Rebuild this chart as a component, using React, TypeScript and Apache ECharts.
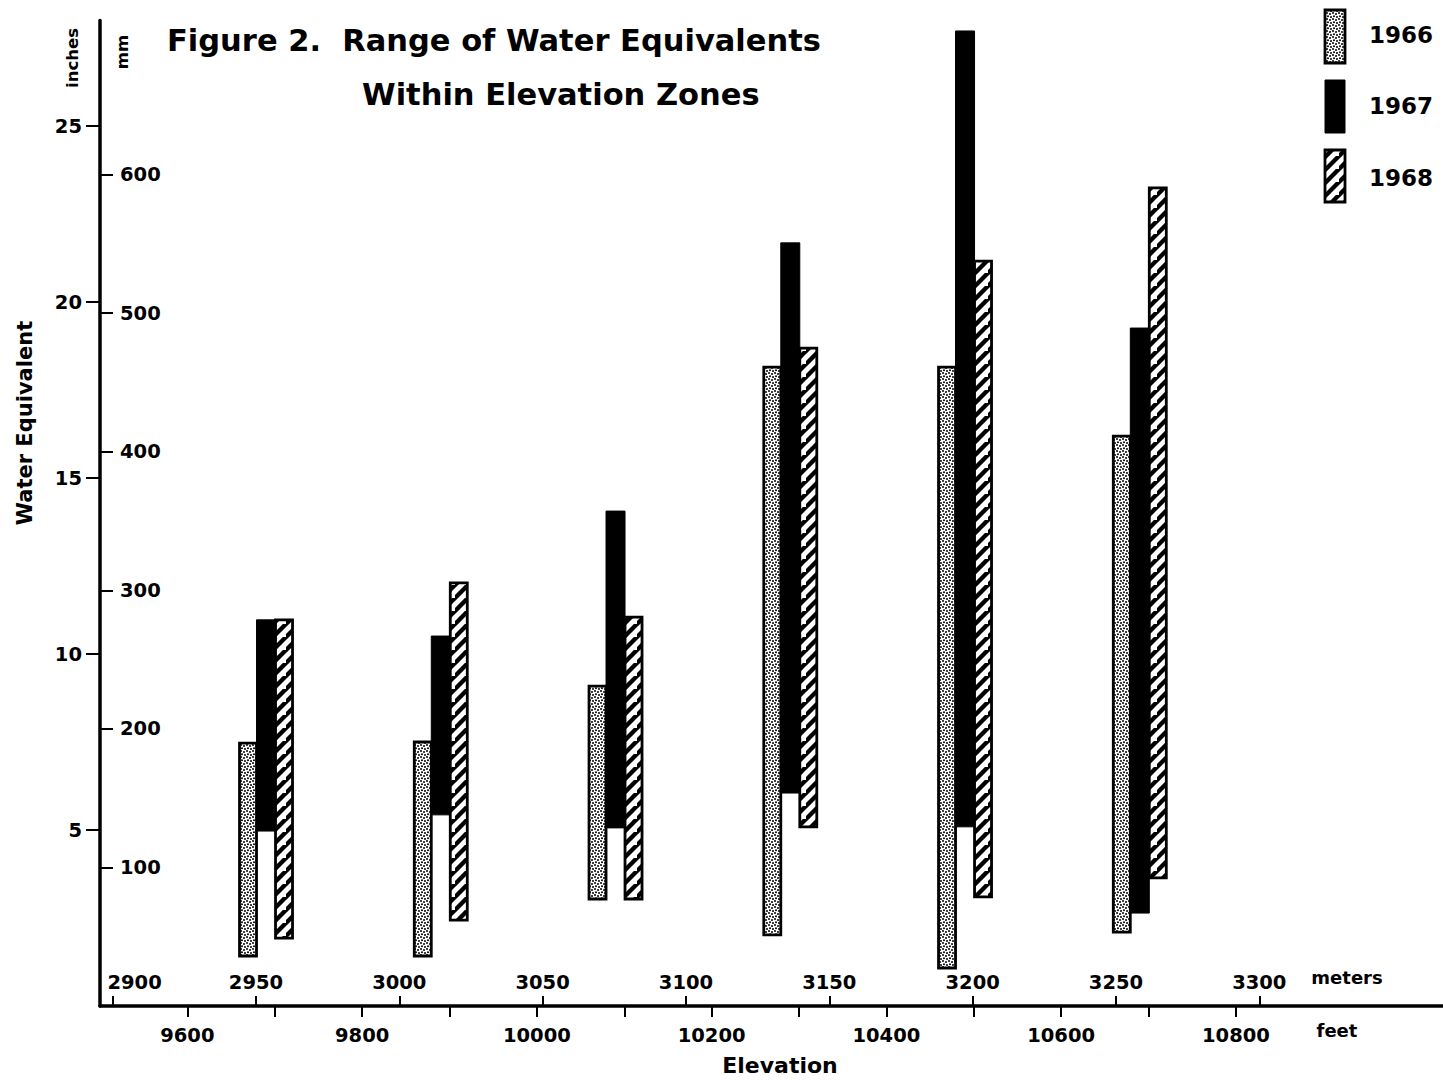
import React, { useEffect, useRef } from 'react';
import * as echarts from 'echarts';

// ---- data (inches of water equivalent, range low..high per elevation zone) ----
const years = ['1966', '1967', '1968'];
const zoneFeet = [9690, 9890, 10090, 10290, 10490, 10690];
const low1966 = [1.42, 1.42, 3.04, 2.02, 1.08, 2.1];
const high1966 = [7.47, 7.5, 9.09, 18.15, 18.15, 16.19];
const low1967 = [4.97, 5.43, 5.06, 6.05, 5.09, 2.64];
const high1967 = [10.97, 10.51, 14.06, 21.68, 27.7, 19.26];
const low1968 = [1.93, 2.44, 3.04, 5.09, 3.1, 3.64];
const high1968 = [10.97, 12.02, 11.05, 18.69, 21.16, 23.24];

const inchTicks = [5, 10, 15, 20, 25];
const mmTicks = [100, 200, 300, 400, 500, 600];
const meterTicks = [2900, 2950, 3000, 3050, 3100, 3150, 3200, 3250, 3300];
const feetTicks = [9600, 9700, 9800, 9900, 10000, 10100, 10200, 10300, 10400, 10500, 10600, 10700, 10800];
const feetLabels = [9600, 9800, 10000, 10200, 10400, 10600, 10800];

const FEET_MIN = 9500;
const FEET_MAX = 11037;
const INCH_MAX = 28;
const FT_TO_M = 0.3048;
const IN_TO_MM = 25.4;

const FONT = 'DejaVu Sans';

function makeDots(): HTMLCanvasElement {
  const c = document.createElement('canvas');
  c.width = 6;
  c.height = 6;
  const g = c.getContext('2d')!;
  g.fillStyle = '#fff';
  g.fillRect(0, 0, 6, 6);
  g.fillStyle = '#000';
  const pts = [[1, 1], [4, 2], [2, 4.2], [5, 5]];
  pts.forEach(([x, y]) => {
    g.beginPath();
    g.arc(x, y, 1.0, 0, Math.PI * 2);
    g.fill();
  });
  return c;
}

function makeHatch(): HTMLCanvasElement {
  const s = 13;
  const c = document.createElement('canvas');
  c.width = s;
  c.height = s;
  const g = c.getContext('2d')!;
  g.fillStyle = '#fff';
  g.fillRect(0, 0, s, s);
  g.strokeStyle = '#000';
  g.lineWidth = 4.4;
  g.lineCap = 'square';
  const lines = [
    [-1, s + 1, s + 1, -1],
    [-s - 1, s + 1, 1, -1],
    [s - 1, s + s + 1, s + s + 1, s - 1],
  ];
  lines.forEach(([a, b, cc, d]) => {
    g.beginPath();
    g.moveTo(a, b);
    g.lineTo(cc, d);
    g.stroke();
  });
  return c;
}

export default function App() {
  const ref = useRef<HTMLDivElement>(null);

  useEffect(() => {
    if (!ref.current) return;
    const chart = echarts.init(ref.current, null, { renderer: 'svg' });

    const dotFill = { image: makeDots(), repeat: 'repeat' };
    const hatchFill = { image: makeHatch(), repeat: 'repeat' };

    const lows = [low1966, low1967, low1968];
    const highs = [high1966, high1967, high1968];
    const offsets = [-18, 0, 18];
    const widths = [17, 19, 17];
    const fills: any[] = [dotFill, '#000', hatchFill];

    const series = years.map((yr, i) => ({
      type: 'custom',
      name: yr,
      xAxisIndex: 0,
      yAxisIndex: 0,
      clip: false,
      z: i === 1 ? 2 : 3,
      encode: { x: 0, y: [1, 2] },
      data: zoneFeet.map((f, k) => [f, lows[i][k], highs[i][k]]),
      renderItem: (params: any, api: any) => {
        const x = api.value(0);
        const lo = api.coord([x, api.value(1)]);
        const hi = api.coord([x, api.value(2)]);
        const cx = lo[0] + offsets[i];
        const w = widths[i];
        return {
          type: 'rect',
          shape: { x: cx - w / 2, y: hi[1], width: w, height: lo[1] - hi[1] },
          style: {
            fill: fills[i],
            stroke: '#000',
            lineWidth: i === 1 ? 1 : 2.8,
          },
        };
      },
    }));

    const labelBase = { color: '#000', fontFamily: FONT, fontWeight: 'bold' as const };

    const option: any = {
      animation: false,
      backgroundColor: '#fff',
      grid: { left: 100, right: 0, top: 20.4, bottom: 75, containLabel: false },
      xAxis: [
        {
          type: 'value',
          min: FEET_MIN,
          max: FEET_MAX,
          position: 'bottom',
          axisLine: { show: true, onZero: false, lineStyle: { color: '#000', width: 3.5 } },
          axisTick: { show: true, inside: false, length: 11, lineStyle: { color: '#000', width: 2 }, customValues: feetTicks },
          axisLabel: { show: true, margin: 19, fontSize: 19.5, ...labelBase, customValues: feetLabels, formatter: (v: number) => String(v) },
          splitLine: { show: false },
        },
        {
          type: 'value',
          min: FEET_MIN * FT_TO_M,
          max: FEET_MAX * FT_TO_M,
          position: 'bottom',
          offset: 0,
          axisLine: { show: false, onZero: false },
          axisTick: { show: true, inside: true, length: 10, lineStyle: { color: '#000', width: 2 }, customValues: meterTicks },
          axisLabel: {
            show: true,
            inside: true,
            margin: 14,
            fontSize: 19.5,
            ...labelBase,
            customValues: meterTicks,
            formatter: (v: number) => (v === 2900 ? '{s|2900}' : String(v)),
            rich: { s: { padding: [0, 0, 0, 44], fontSize: 19.5, ...labelBase } },
          },
          splitLine: { show: false },
        },
      ],
      yAxis: [
        {
          type: 'value',
          min: 0,
          max: INCH_MAX,
          position: 'left',
          axisLine: { show: true, onZero: false, lineStyle: { color: '#000', width: 3.5 } },
          axisTick: { show: true, inside: false, length: 14, lineStyle: { color: '#000', width: 2 }, customValues: inchTicks },
          axisLabel: { show: true, margin: 18, fontSize: 19.5, ...labelBase, customValues: inchTicks },
          splitLine: { show: false },
        },
        {
          type: 'value',
          min: 0,
          max: INCH_MAX * IN_TO_MM,
          position: 'left',
          offset: 0,
          axisLine: { show: false, onZero: false },
          axisTick: { show: true, inside: true, length: 13, lineStyle: { color: '#000', width: 2 }, customValues: mmTicks },
          axisLabel: { show: true, inside: true, margin: 20, fontSize: 19.5, ...labelBase, customValues: mmTicks },
          splitLine: { show: false },
        },
      ],
      series,
      graphic: [
        { type: 'text', left: 167, top: 25, style: { text: 'Figure 2.  Range of Water Equivalents', fontSize: 30.5, ...labelBase, fill: '#000' } },
        { type: 'text', left: 362, top: 79, style: { text: 'Within Elevation Zones', fontSize: 30.5, ...labelBase, fill: '#000' } },
        { type: 'text', x: 72, y: 58, rotation: Math.PI / 2, style: { text: 'inches', fontSize: 16.5, ...labelBase, fill: '#000', align: 'center', verticalAlign: 'middle' } },
        { type: 'text', x: 122, y: 52, rotation: Math.PI / 2, style: { text: 'mm', fontSize: 16.5, ...labelBase, fill: '#000', align: 'center', verticalAlign: 'middle' } },
        { type: 'text', x: 25, y: 423, rotation: Math.PI / 2, style: { text: 'Water Equivalent', fontSize: 21, ...labelBase, fill: '#000', align: 'center', verticalAlign: 'middle' } },
        { type: 'text', x: 780, y: 1065, style: { text: 'Elevation', fontSize: 22, ...labelBase, fill: '#000', align: 'center', verticalAlign: 'middle' } },
        { type: 'text', x: 1347, y: 977, style: { text: 'meters', fontSize: 18, ...labelBase, fill: '#000', align: 'center', verticalAlign: 'middle' } },
        { type: 'text', x: 1337, y: 1030, style: { text: 'feet', fontSize: 18, ...labelBase, fill: '#000', align: 'center', verticalAlign: 'middle' } },
        // legend
        { type: 'rect', shape: { x: 1325, y: 10, width: 20, height: 53 }, style: { fill: dotFill, stroke: '#000', lineWidth: 2.8 } },
        { type: 'rect', shape: { x: 1325, y: 80, width: 20, height: 53 }, style: { fill: '#000', stroke: '#000', lineWidth: 1 } },
        { type: 'rect', shape: { x: 1325, y: 150, width: 20, height: 52 }, style: { fill: hatchFill, stroke: '#000', lineWidth: 2.8 } },
        { type: 'text', x: 1369, y: 35, style: { text: years[0], fontSize: 23, ...labelBase, fill: '#000', verticalAlign: 'middle' } },
        { type: 'text', x: 1369, y: 106, style: { text: years[1], fontSize: 23, ...labelBase, fill: '#000', verticalAlign: 'middle' } },
        { type: 'text', x: 1369, y: 178, style: { text: years[2], fontSize: 23, ...labelBase, fill: '#000', verticalAlign: 'middle' } },
      ],
    };

    chart.setOption(option);
    return () => chart.dispose();
  }, []);

  return (
    <div
      ref={ref}
      style={{ position: 'absolute', left: 0, top: 0, width: 1443, height: 1081, background: '#fff' }}
    />
  );
}
